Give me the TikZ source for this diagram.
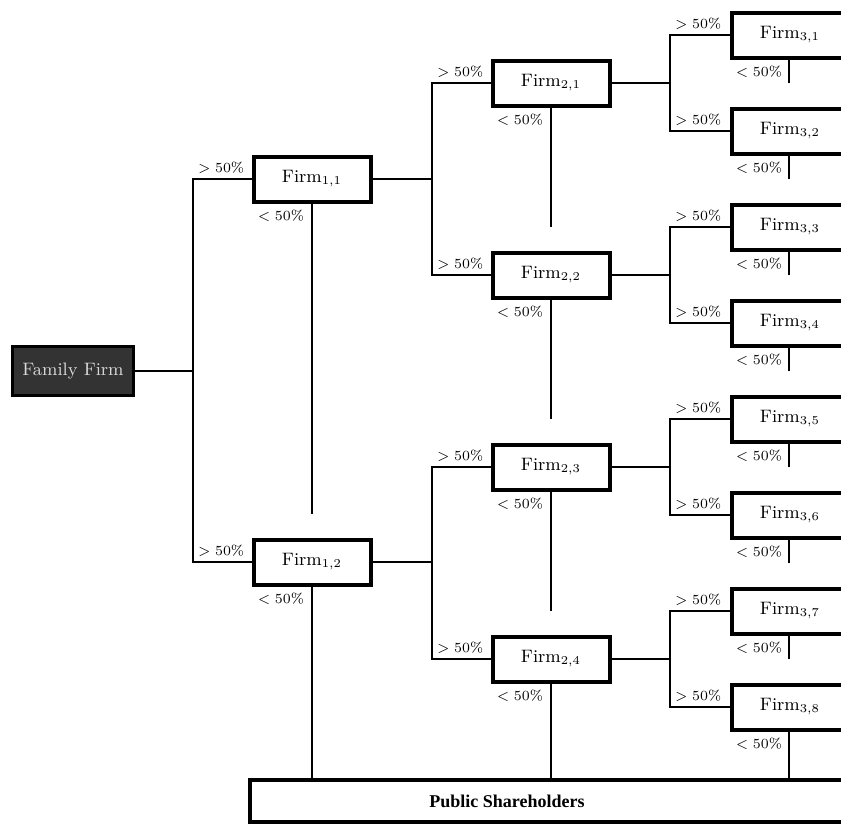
\documentclass[tikz,border=0pt]{standalone}
\usepackage{fontspec}
\usepackage{tikz}
\usetikzlibrary{positioning,calc}
\newfontfamily\pubfont{Liberation Serif}
\definecolor{famgray}{HTML}{333333}
\tikzstyle{firm} = [rectangle, draw=black, line width=2pt, minimum width=58.5pt, minimum height=22.5pt, text centered, fill=white, font=\fontsize{9}{11}\selectfont, label={[lt]south west:$<50\%$}]
\tikzstyle{family} = [rectangle, draw=black, line width=1.6pt, fill=famgray, text=white!85!black, minimum width=60.5pt, minimum height=24.5pt, font=\fontsize{9}{11}\selectfont]
\tikzstyle{public} = [rectangle, draw=black, line width=2pt, minimum width=325pt, minimum height=21pt, label={[xshift=-34pt, font=\pubfont\bfseries\fontsize{9}{11}\selectfont]center:Public Shareholders}]
\tikzstyle{link} = [line width=1pt]
\tikzset{
 gt/.style
  = {pos=0.5, anchor=south west, font=\scriptsize, inner sep=1pt, xshift=1pt, yshift=1pt},
 lt/.style
  = {anchor=north west, font=\scriptsize, inner sep=1pt, xshift=2pt, yshift=-2pt},
}

\begin{document}
\begin{tikzpicture}[x=0.5pt, y=-0.5pt]
\useasboundingbox (0,0) rectangle (841,825);
\clip (0,0) rectangle (841,825);
% nodes
\node (fam) [family] at (73,371) {Family Firm};
\node (f11) [firm] at (312,179) {Firm$_{1,1}$};
\node (f12) [firm] at (312,562) {Firm$_{1,2}$};
\node (f21) [firm] at (551,83) {Firm$_{2,1}$};
\node (f22) [firm] at (551,275) {Firm$_{2,2}$};
\node (f23) [firm] at (551,467) {Firm$_{2,3}$};
\node (f24) [firm] at (551,659) {Firm$_{2,4}$};
\node (f31) [firm] at (790,35) {Firm$_{3,1}$};
\node (f32) [firm] at (790,131) {Firm$_{3,2}$};
\node (f33) [firm] at (790,227) {Firm$_{3,3}$};
\node (f34) [firm] at (790,323) {Firm$_{3,4}$};
\node (f35) [firm] at (790,419) {Firm$_{3,5}$};
\node (f36) [firm] at (790,515) {Firm$_{3,6}$};
\node (f37) [firm] at (790,611) {Firm$_{3,7}$};
\node (f38) [firm] at (790,707) {Firm$_{3,8}$};
\node (pub) [public] at (575,801) {};
% junctions
\coordinate (j0) at (193,371);
\coordinate (j11) at (432,179);
\coordinate (j12) at (432,562);
\coordinate (j21) at (670,83);
\coordinate (j22) at (670,275);
\coordinate (j23) at (670,467);
\coordinate (j24) at (670,659);
% majority links
\draw [link] (fam) -- (j0) |- node[gt] {$>50\%$} (f11);
\draw [link] (j0) |- node[gt] {$>50\%$} (f12);
\draw [link] (f11) -- (j11) |- node[gt] {$>50\%$} (f21);
\draw [link] (j11) |- node[gt] {$>50\%$} (f22);
\draw [link] (f12) -- (j12) |- node[gt] {$>50\%$} (f23);
\draw [link] (j12) |- node[gt] {$>50\%$} (f24);
\draw [link] (f21) -- (j21) |- node[gt] {$>50\%$} (f31);
\draw [link] (j21) |- node[gt] {$>50\%$} (f32);
\draw [link] (f22) -- (j22) |- node[gt] {$>50\%$} (f33);
\draw [link] (j22) |- node[gt] {$>50\%$} (f34);
\draw [link] (f23) -- (j23) |- node[gt] {$>50\%$} (f35);
\draw [link] (j23) |- node[gt] {$>50\%$} (f36);
\draw [link] (f24) -- (j24) |- node[gt] {$>50\%$} (f37);
\draw [link] (j24) |- node[gt] {$>50\%$} (f38);
% minority links
\draw [link] (f11.south) -- ([yshift=12pt]f12.north);
\draw [link] (f12.south) -- (f12 |- pub.north);
\draw [link] (f21.south) -- ([yshift=12pt]f22.north);
\draw [link] (f22.south) -- ([yshift=12pt]f23.north);
\draw [link] (f23.south) -- ([yshift=12pt]f24.north);
\draw [link] (f24.south) -- (f24 |- pub.north);
\draw [link] ([xshift=-0.5pt]f31.south) -- ([xshift=-0.5pt, yshift=12pt]f32.north);
\draw [link] ([xshift=-0.5pt]f32.south) -- ([xshift=-0.5pt, yshift=12pt]f33.north);
\draw [link] ([xshift=-0.5pt]f33.south) -- ([xshift=-0.5pt, yshift=12pt]f34.north);
\draw [link] ([xshift=-0.5pt]f34.south) -- ([xshift=-0.5pt, yshift=12pt]f35.north);
\draw [link] ([xshift=-0.5pt]f35.south) -- ([xshift=-0.5pt, yshift=12pt]f36.north);
\draw [link] ([xshift=-0.5pt]f36.south) -- ([xshift=-0.5pt, yshift=12pt]f37.north);
\draw [link] ([xshift=-0.5pt]f37.south) -- ([xshift=-0.5pt, yshift=12pt]f38.north);
\draw [link] ([xshift=-0.5pt]f38.south) -- ([xshift=-0.5pt]f38.south |- pub.north);
\end{tikzpicture}
\end{document}
